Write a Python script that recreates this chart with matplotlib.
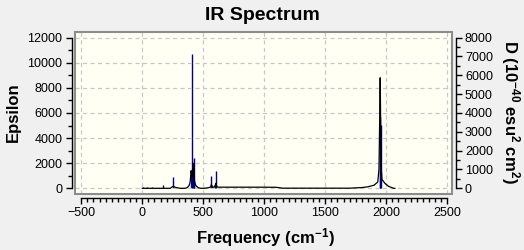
import matplotlib
matplotlib.use("Agg")
import matplotlib.pyplot as plt
from matplotlib.patches import Rectangle
from matplotlib.ticker import MultipleLocator

plt.rcParams['font.family'] = ['Liberation Sans', 'DejaVu Sans']
plt.rcParams['mathtext.fontset'] = 'custom'
plt.rcParams['mathtext.rm'] = 'Liberation Sans:bold'
plt.rcParams['mathtext.bf'] = 'Liberation Sans:bold'
plt.rcParams['mathtext.default'] = 'bf'

# ---- data ----
# broadened spectrum (left axis, Epsilon)
curve_freq = [0, 150, 230, 245, 255, 270, 290, 310, 350, 370, 385, 392, 396, 400, 404,
              408, 413, 418, 422, 428, 435, 445, 460, 480, 500, 540, 560, 566, 572,
              590, 598, 604, 612, 630, 700, 1000, 1100, 1150, 1700, 1800, 1850, 1900,
              1930, 1940, 1946, 1950, 1954, 1958, 1965, 1990, 2020, 2060, 2070]
curve_eps = [0, 0, 0, 120, 150, 80, 40, 0, 0, 60, 250, 500, 900, 1400, 1200,
             900, 1600, 2000, 1400, 600, 300, 150, 50, 0, 0, 40, 100, 300, 100,
             90, 250, 400, 100, 90, 90, 90, 80, 10, 10, 60, 120, 250,
             500, 1500, 5600, 8800, 5100, 1600, 700, 380, 150, 0, 0]

# stick spectrum (right axis, D)
stick_freq = [3, 38, 76, 166, 249, 397, 405, 412, 421, 426, 566, 570, 598, 604,
              1948, 1952, 1955]
stick_D = [80, 60, 60, 190, 600, 930, 7110, 1000, 1620, 300, 640, 200, 200, 900,
           3780, 2000, 3370]

x_ticks = [-500, 0, 500, 1000, 1500, 2000, 2500]
left_ticks = [0, 2000, 4000, 6000, 8000, 10000, 12000]
right_ticks = [0, 1000, 2000, 3000, 4000, 5000, 6000, 7000, 8000]

title = "IR Spectrum"
xlabel = "Frequency (cm$^{-1}$)"
ylabel_left = "Epsilon"
ylabel_right = "D (10$^{-40}$ esu$^{2}$ cm$^{2}$)"

# ---- figure ----
W, H = 524, 250
fig = plt.figure(figsize=(W / 100, H / 100), dpi=100, facecolor='#F0F0F0')
ax = fig.add_axes([75.3 / W, 1 - 194 / H, (452.3 - 75.3) / W, (194 - 32.3) / H])
ax2 = ax.twinx()

# background on ax2 (below), ax drawn on top with transparent patch
ax2.set_zorder(1)
ax.set_zorder(2)
ax.patch.set_visible(False)
ax2.patch.set_facecolor('#FFFFF4')
ax2.patch.set_visible(True)

ax.set_xlim(-549, 2541)
ax.set_ylim(-453, 12421)
ax2.set_ylim(-302, 8281)

# grid (left axis)
ax.set_xticks(x_ticks)
ax.set_yticks(left_ticks)
ax.grid(True, color='#C8C8C8', linestyle=(0, (3.3, 2.7)), linewidth=0.9)

# sticks and curve
ax2.vlines(stick_freq, 0, stick_D, colors='#000080', linewidth=1.0)
ax.plot(curve_freq, curve_eps, color='black', linewidth=0.9)

ax.xaxis.set_minor_locator(MultipleLocator(50))
ax.yaxis.set_minor_locator(MultipleLocator(1000))
ax2.set_yticks(right_ticks)
ax2.yaxis.set_minor_locator(MultipleLocator(500))

# spines as detached axis lines
for a in (ax, ax2):
    for s in a.spines.values():
        s.set_visible(False)
ax.spines['left'].set_visible(True)
ax.spines['left'].set_position(('outward', 2.6))
ax.spines['left'].set_bounds(0, 12000)
ax.spines['bottom'].set_visible(True)
ax.spines['bottom'].set_position(('outward', 3.1))
ax.spines['bottom'].set_bounds(-500, 2500)
ax2.spines['right'].set_visible(True)
ax2.spines['right'].set_position(('outward', 2.5))
ax2.spines['right'].set_bounds(0, 8000)
for s in (ax.spines['left'], ax.spines['bottom'], ax2.spines['right']):
    s.set_color('black')
    s.set_linewidth(1.0)

ax.tick_params(axis='both', which='major', direction='out', length=4.6, width=1.0,
               labelsize=9, pad=2, colors='black')
ax.tick_params(axis='both', which='minor', direction='out', length=2.6, width=1.0)
ax2.tick_params(axis='y', which='major', direction='out', length=4.6, width=1.0,
                labelsize=9, pad=2)
ax2.tick_params(axis='y', which='minor', direction='out', length=2.6, width=1.0)
ax.xaxis.set_ticks_position('bottom')
ax.yaxis.set_ticks_position('left')

# gray box
box = Rectangle((0, 0), 1, 1, transform=ax.transAxes, fill=False,
                edgecolor='#8C8C8C', linewidth=1.5, clip_on=False, zorder=10)
ax.add_patch(box)

fig.text(262 / W, 1 - 15 / H, title, ha='center', va='center',
         fontsize=14, fontweight='bold')
fig.text(265 / W, 1 - 238 / H, xlabel, ha='center', va='center',
         fontsize=12, fontweight='bold')
fig.text(13 / W, 1 - 112 / H, ylabel_left, ha='center', va='center',
         rotation=90, fontsize=12, fontweight='bold')
fig.text(510 / W, 1 - 112 / H, ylabel_right, ha='center', va='center',
         rotation=-90, fontsize=12, fontweight='bold')

fig.savefig('out.png', dpi=100, facecolor=fig.get_facecolor())
